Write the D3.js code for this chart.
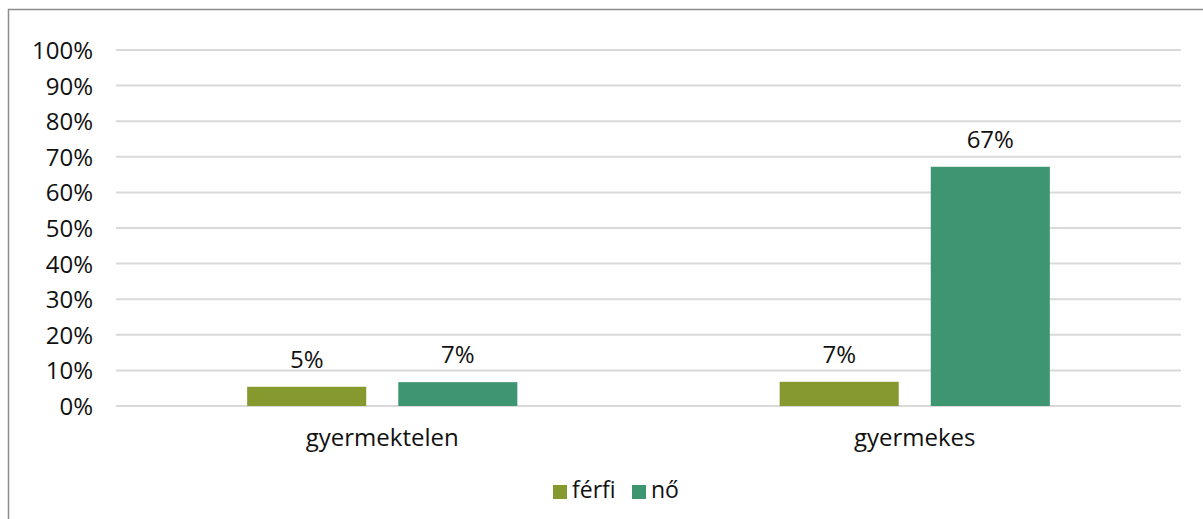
<!DOCTYPE html>
<html>
<head>
<meta charset="utf-8">
<script src="https://cdn.jsdelivr.net/npm/d3@7"></script>
<style>
  html, body { margin: 0; padding: 0; background: #fff; }
  svg { display: block; font-family: "Open Sans", sans-serif; }
</style>
</head>
<body>
<svg id="chart" width="1203" height="519"></svg>
<script>
const categories = ["gyermektelen", "gyermekes"];
const seriesNames = ["férfi", "nő"];
const ferfiValues = [5.4, 6.8];
const noValues = [6.7, 67.2];
const yTicks = [0, 10, 20, 30, 40, 50, 60, 70, 80, 90, 100];
const seriesColors = ["#86992E", "#3D9671"];

const seriesValues = [ferfiValues, noValues];
const svg = d3.select("#chart");
const plot = { left: 116, right: 1181, top: 50, bottom: 406 };
const FS = 24;

// outer border
svg.append("rect")
  .attr("x", 8.5).attr("y", 9.5)
  .attr("width", 1220).attr("height", 540)
  .attr("fill", "#fff").attr("stroke", "#8c8c8c").attr("stroke-width", 1.5);

const y = d3.scaleLinear().domain([0, 100]).range([plot.bottom, plot.top]);
const x0 = d3.scaleBand().domain(categories).range([plot.left, plot.right]).padding(0);
const x1 = d3.scaleBand().domain(seriesNames).range([0, x0.bandwidth()])
  .paddingInner(0.212).paddingOuter(0.868);

// gridlines
svg.append("g").selectAll("line").data(yTicks).join("line")
  .attr("x1", plot.left).attr("x2", plot.right)
  .attr("y1", d => y(d)).attr("y2", d => y(d))
  .attr("stroke", "#d9d9d9").attr("stroke-width", 2);

// y axis labels
const yAxis = d3.axisLeft(y).tickValues(yTicks).tickFormat(d => d + "%").tickSize(0).tickPadding(0);
const yg = svg.append("g").attr("transform", `translate(${93},0)`).call(yAxis);
yg.select(".domain").remove();
yg.selectAll("text").attr("font-size", FS).attr("fill", "#111")
  .attr("font-family", "'Open Sans', sans-serif").attr("dy", "0.35em");

// bars
const groups = svg.append("g").selectAll("g").data(categories).join("g")
  .attr("transform", d => `translate(${x0(d)},0)`);

groups.each(function(cat, ci) {
  const g = d3.select(this);
  seriesNames.forEach((s, si) => {
    const v = seriesValues[si][ci];
    g.append("rect")
      .attr("x", x1(s)).attr("width", x1.bandwidth())
      .attr("y", y(v)).attr("height", y(0) - y(v))
      .attr("fill", seriesColors[si]);
    g.append("text")
      .attr("x", x1(s) + x1.bandwidth() / 2)
      .attr("y", y(v) - 19)
      .attr("text-anchor", "middle")
      .attr("font-size", FS).attr("fill", "#111")
      .text(Math.round(v) + "%");
  });
});

// category labels
const xAxis = d3.axisBottom(x0).tickSize(0).tickPadding(0);
const xg = svg.append("g").attr("transform", `translate(0,${plot.bottom})`).call(xAxis);
xg.select(".domain").remove();
xg.selectAll("text").attr("font-size", FS).attr("fill", "#111")
  .attr("font-family", "'Open Sans', sans-serif").attr("dy", null).attr("y", 40);

// legend
const legendItems = [
  { name: seriesNames[0], color: seriesColors[0], x: 553 },
  { name: seriesNames[1], color: seriesColors[1], x: 632 }
];
const lg = svg.append("g");
legendItems.forEach(it => {
  lg.append("rect").attr("x", it.x).attr("y", 485).attr("width", 14).attr("height", 14).attr("fill", it.color);
  lg.append("text").attr("x", it.x + 19).attr("y", 498).attr("font-size", 23).attr("fill", "#111").text(it.name);
});
</script>
</body>
</html>
